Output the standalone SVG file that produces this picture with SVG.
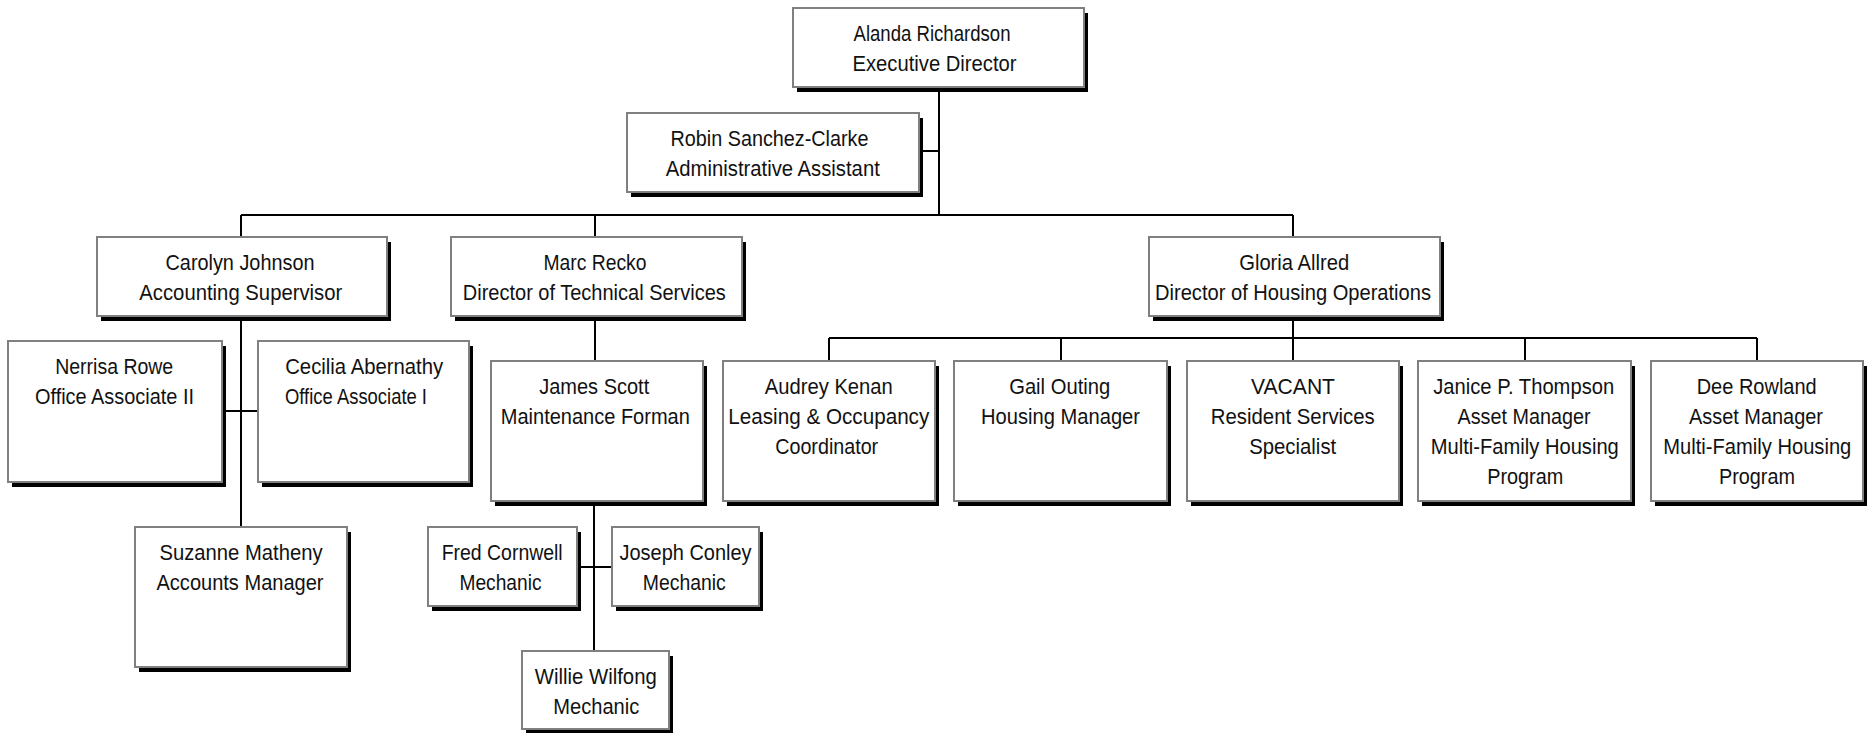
<svg xmlns="http://www.w3.org/2000/svg" width="1874" height="733" viewBox="0 0 1874 733">
<style>
.sh{fill:#000}
.bx{fill:#fff;stroke:#808080;stroke-width:2}
.t{font-family:"Liberation Sans Narrow","Liberation Sans",Arial,sans-serif;font-size:22px;fill:#111;text-anchor:middle}
.ts{text-anchor:start}
.cn{stroke:#000;stroke-width:2;fill:none}
</style>
<rect width="1874" height="733" fill="#fff"/>
<g id="connectors" class="cn">
<path d="M939 87V215M919 151H939M241 215H1293"/>
<path d="M241 215V237M241 316V527M222 411H258"/>
<path d="M595 215V237M595 316V361M594 501V651M577 567H612"/>
<path d="M1293 215V237M1293 316V361M829 338H1757M829 338V361M1061 338V361M1525 338V361M1757 338V361"/>
</g>
<g id="alanda">
<rect class="sh" x="797" y="13" width="291" height="79"/>
<rect class="bx" x="793" y="8" width="291" height="79"/>
<text class="t" x="932" y="40.5" textLength="157" lengthAdjust="spacingAndGlyphs">Alanda Richardson</text>
<text class="t" x="934.5" y="70.5" textLength="164" lengthAdjust="spacingAndGlyphs">Executive Director</text>
</g>
<g id="robin">
<rect class="sh" x="631" y="118" width="292" height="79"/>
<rect class="bx" x="627" y="113" width="292" height="79"/>
<text class="t" x="769.5" y="145.5" textLength="198" lengthAdjust="spacingAndGlyphs">Robin Sanchez-Clarke</text>
<text class="t" x="772.8" y="175.5" textLength="214" lengthAdjust="spacingAndGlyphs">Administrative Assistant</text>
</g>
<g id="carolyn">
<rect class="sh" x="101" y="242" width="290" height="79"/>
<rect class="bx" x="97" y="237" width="290" height="79"/>
<text class="t" x="240" y="269.5" textLength="149" lengthAdjust="spacingAndGlyphs">Carolyn Johnson</text>
<text class="t" x="240.8" y="299.5" textLength="203" lengthAdjust="spacingAndGlyphs">Accounting Supervisor</text>
</g>
<g id="marc">
<rect class="sh" x="455" y="242" width="291" height="79"/>
<rect class="bx" x="451" y="237" width="291" height="79"/>
<text class="t" x="595" y="269.5" textLength="103" lengthAdjust="spacingAndGlyphs">Marc Recko</text>
<text class="t" x="594.3" y="299.5" textLength="263" lengthAdjust="spacingAndGlyphs">Director of Technical Services</text>
</g>
<g id="gloria">
<rect class="sh" x="1153" y="242" width="291" height="79"/>
<rect class="bx" x="1149" y="237" width="291" height="79"/>
<text class="t" x="1294.2" y="269.5" textLength="110" lengthAdjust="spacingAndGlyphs">Gloria Allred</text>
<text class="t" x="1293" y="299.5" textLength="276" lengthAdjust="spacingAndGlyphs">Director of Housing Operations</text>
</g>
<g id="nerrisa">
<rect class="sh" x="12" y="346" width="214" height="141"/>
<rect class="bx" x="8" y="341" width="214" height="141"/>
<text class="t" x="114.2" y="373.5" textLength="118" lengthAdjust="spacingAndGlyphs">Nerrisa Rowe</text>
<text class="t" x="114.5" y="403.5" textLength="159" lengthAdjust="spacingAndGlyphs">Office Associate II</text>
</g>
<g id="cecilia">
<rect class="sh" x="262" y="346" width="211" height="141"/>
<rect class="bx" x="258" y="341" width="211" height="141"/>
<text class="t" x="364.2" y="373.5" textLength="158" lengthAdjust="spacingAndGlyphs">Cecilia Abernathy</text>
<text class="t ts" x="285" y="403.5" textLength="142" lengthAdjust="spacingAndGlyphs">Office Associate I</text>
</g>
<g id="suzanne">
<rect class="sh" x="139" y="532" width="212" height="140"/>
<rect class="bx" x="135" y="527" width="212" height="140"/>
<text class="t" x="241" y="559.5" textLength="163" lengthAdjust="spacingAndGlyphs">Suzanne Matheny</text>
<text class="t" x="240" y="589.5" textLength="167" lengthAdjust="spacingAndGlyphs">Accounts Manager</text>
</g>
<g id="james">
<rect class="sh" x="495" y="366" width="212" height="140"/>
<rect class="bx" x="491" y="361" width="212" height="140"/>
<text class="t" x="594.2" y="393.5" textLength="110" lengthAdjust="spacingAndGlyphs">James Scott</text>
<text class="t" x="595.3" y="423.5" textLength="189" lengthAdjust="spacingAndGlyphs">Maintenance Forman</text>
</g>
<g id="fred">
<rect class="sh" x="432" y="532" width="149" height="79"/>
<rect class="bx" x="428" y="527" width="149" height="79"/>
<text class="t" x="502.2" y="559.5" textLength="121" lengthAdjust="spacingAndGlyphs">Fred Cornwell</text>
<text class="t" x="500.5" y="589.5" textLength="82" lengthAdjust="spacingAndGlyphs">Mechanic</text>
</g>
<g id="joseph">
<rect class="sh" x="616" y="532" width="147" height="79"/>
<rect class="bx" x="612" y="527" width="147" height="79"/>
<text class="t" x="685.5" y="559.5" textLength="132" lengthAdjust="spacingAndGlyphs">Joseph Conley</text>
<text class="t" x="684.3" y="589.5" textLength="83" lengthAdjust="spacingAndGlyphs">Mechanic</text>
</g>
<g id="willie">
<rect class="sh" x="526" y="656" width="147" height="78"/>
<rect class="bx" x="522" y="651" width="147" height="78"/>
<text class="t" x="595.8" y="683.5" textLength="122" lengthAdjust="spacingAndGlyphs">Willie Wilfong</text>
<text class="t" x="596.3" y="713.5" textLength="86" lengthAdjust="spacingAndGlyphs">Mechanic</text>
</g>
<g id="audrey">
<rect class="sh" x="727" y="366" width="212" height="140"/>
<rect class="bx" x="723" y="361" width="212" height="140"/>
<text class="t" x="828.8" y="393.5" textLength="128" lengthAdjust="spacingAndGlyphs">Audrey Kenan</text>
<text class="t" x="828.8" y="423.5" textLength="201" lengthAdjust="spacingAndGlyphs">Leasing &amp; Occupancy</text>
<text class="t" x="826.7" y="453.5" textLength="103" lengthAdjust="spacingAndGlyphs">Coordinator</text>
</g>
<g id="gail">
<rect class="sh" x="958" y="366" width="213" height="140"/>
<rect class="bx" x="954" y="361" width="213" height="140"/>
<text class="t" x="1059.7" y="393.5" textLength="101" lengthAdjust="spacingAndGlyphs">Gail Outing</text>
<text class="t" x="1060.5" y="423.5" textLength="159" lengthAdjust="spacingAndGlyphs">Housing Manager</text>
</g>
<g id="vacant">
<rect class="sh" x="1191" y="366" width="212" height="140"/>
<rect class="bx" x="1187" y="361" width="212" height="140"/>
<text class="t" x="1293" y="393.5" textLength="84" lengthAdjust="spacingAndGlyphs">VACANT</text>
<text class="t" x="1292.8" y="423.5" textLength="164" lengthAdjust="spacingAndGlyphs">Resident Services</text>
<text class="t" x="1292.7" y="453.5" textLength="87" lengthAdjust="spacingAndGlyphs">Specialist</text>
</g>
<g id="janice">
<rect class="sh" x="1422" y="366" width="213" height="140"/>
<rect class="bx" x="1418" y="361" width="213" height="140"/>
<text class="t" x="1523.7" y="393.5" textLength="181" lengthAdjust="spacingAndGlyphs">Janice P. Thompson</text>
<text class="t" x="1524" y="423.5" textLength="133" lengthAdjust="spacingAndGlyphs">Asset Manager</text>
<text class="t" x="1524.8" y="453.5" textLength="188" lengthAdjust="spacingAndGlyphs">Multi-Family Housing</text>
<text class="t" x="1525.2" y="483.5" textLength="76" lengthAdjust="spacingAndGlyphs">Program</text>
</g>
<g id="dee">
<rect class="sh" x="1655" y="366" width="212" height="140"/>
<rect class="bx" x="1651" y="361" width="212" height="140"/>
<text class="t" x="1756.7" y="393.5" textLength="120" lengthAdjust="spacingAndGlyphs">Dee Rowland</text>
<text class="t" x="1756" y="423.5" textLength="134" lengthAdjust="spacingAndGlyphs">Asset Manager</text>
<text class="t" x="1757.3" y="453.5" textLength="188" lengthAdjust="spacingAndGlyphs">Multi-Family Housing</text>
<text class="t" x="1757" y="483.5" textLength="76" lengthAdjust="spacingAndGlyphs">Program</text>
</g>
</svg>
